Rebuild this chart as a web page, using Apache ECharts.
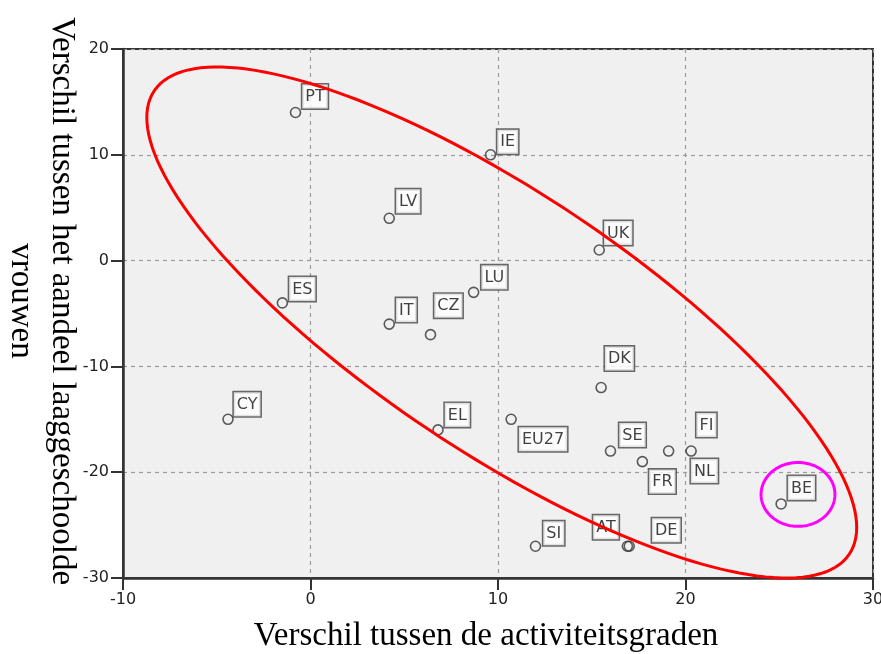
<!DOCTYPE html>
<html>
<head>
<meta charset="utf-8">
<script src="https://cdn.jsdelivr.net/npm/echarts@6/dist/echarts.min.js"></script>
<style>
  html, body { margin: 0; padding: 0; background: #fff; }
  #chart { width: 881px; height: 654px; }
</style>
</head>
<body>
<div id="chart"></div>
<script>
// landen en hun waarden
const countries   = ['PT', 'IE', 'LV', 'UK', 'ES', 'IT', 'CZ', 'LU', 'DK', 'CY', 'EL', 'EU27', 'SE', 'FR', 'FI', 'NL', 'SI', 'AT', 'DE', 'BE'];
const activityGap = [-0.8, 9.6, 4.2, 15.4, -1.5, 4.2, 6.4, 8.7, 15.5, -4.4, 6.8, 10.7, 16.0, 17.7, 19.1, 20.3, 12.0, 16.9, 17.0, 25.1];
const lowEduGap   = [14, 10, 4, 1, -4, -6, -7, -3, -12, -15, -16, -15, -18, -19, -18, -18, -27, -27, -27, -23];

const xTicks = [-10, 0, 10, 20, 30];
const yTicks = [-30, -20, -10, 0, 10, 20];

// verschuiving van de labels t.o.v. het punt (px)
const labelOffsets = {
  PT: [1, -4], IE: [1, -1], LV: [1, -5], UK: [-1, -5], ES: [1, -2], IT: [1, -2],
  CZ: [-2, -17], LU: [2, -3], DK: [-2, -17], CY: [0, -3], EL: [1, -3], EU27: [2, 32],
  SE: [3, -4], FR: [1, 32], FI: [22, -14], NL: [-6, 32], SI: [2, -1], AT: [-40, -7],
  DE: [17, -4], BE: [1, -4]
};

// ellipsen (annotatie): middelpunt + twee toegevoegde halve assen, in data-eenheden
const ellipses = [
  { center: [10.2, -5.85], u: [18.93, -19.37], v: [0, 14.42], color: '#ff0000' },
  { center: [26.0, -22.1], u: [1.97, 0], v: [0, 3.02], color: '#ff00ff' }
];

const chart = echarts.init(document.getElementById('chart'));

const points = countries.map((name, i) => ({
  name: name,
  value: [activityGap[i], lowEduGap[i]],
  label: { offset: labelOffsets[name] || [0, 0] }
}));

const axisCommon = {
  type: 'value',
  axisLine: { show: true, onZero: false, lineStyle: { color: '#333', width: 2.5 } },
  axisTick: { show: true, length: 12, lineStyle: { color: '#333', width: 2 } },
  axisLabel: { color: '#222', fontSize: 16, fontFamily: 'DejaVu Sans', margin: 14 },
  splitLine: { show: true, lineStyle: { color: '#9a9a9a', width: 1.2, type: [4, 4] } }
};

const titleFont = '33px "Liberation Serif", "Times New Roman", serif';

const option = {
  animation: false,
  grid: {
    left: 123, right: 8, top: 49, bottom: 76,
    outerBoundsMode: 'none',
    show: true, backgroundColor: '#f0f0f0', borderColor: '#333', borderWidth: 2
  },
  xAxis: Object.assign({}, axisCommon, {
    min: xTicks[0], max: xTicks[xTicks.length - 1], interval: 10
  }),
  yAxis: Object.assign({}, axisCommon, {
    min: yTicks[0], max: yTicks[yTicks.length - 1], interval: 10
  }),
  series: [
    {
      type: 'scatter',
      data: points,
      symbol: 'circle',
      symbolSize: 10,
      itemStyle: { color: 'rgba(0,0,0,0)', borderColor: '#333', borderWidth: 1.6 },
      label: {
        show: true,
        formatter: '{b}',
        position: 'right',
        distance: 0,
        align: 'left',
        verticalAlign: 'bottom',
        color: '#111',
        fontSize: 16,
        fontFamily: 'DejaVu Sans',
        lineHeight: 19,
        padding: [3, 3, 2, 3],
        backgroundColor: '#ffffff',
        borderColor: '#444',
        borderWidth: 1.5
      },
      emphasis: { disabled: true },
      z: 3
    },
    {
      type: 'custom',
      data: ellipses.map((e, i) => [i]),
      clip: false,
      silent: true,
      z: 5,
      renderItem: function (params, api) {
        const e = ellipses[params.dataIndex];
        const pts = [];
        for (let k = 0; k < 180; k++) {
          const t = k / 180 * Math.PI * 2;
          pts.push(api.coord([
            e.center[0] + e.u[0] * Math.cos(t) + e.v[0] * Math.sin(t),
            e.center[1] + e.u[1] * Math.cos(t) + e.v[1] * Math.sin(t)
          ]));
        }
        return {
          type: 'polygon',
          shape: { points: pts, smooth: 0 },
          style: { fill: 'none', stroke: e.color, lineWidth: 3 }
        };
      }
    }
  ],
  graphic: [
    {
      type: 'text', x: 486, y: 636,
      style: {
        text: 'Verschil tussen de activiteitsgraden',
        font: titleFont, fill: '#000', textAlign: 'center', textVerticalAlign: 'middle'
      }
    },
    {
      type: 'text', x: 62, y: 301, rotation: -Math.PI / 2,
      style: {
        text: 'Verschil tussen het aandeel laaggeschoolde',
        font: titleFont, fill: '#000', textAlign: 'center', textVerticalAlign: 'middle'
      }
    },
    {
      type: 'text', x: 21, y: 301, rotation: -Math.PI / 2,
      style: {
        text: 'vrouwen',
        font: titleFont, fill: '#000', textAlign: 'center', textVerticalAlign: 'middle'
      }
    }
  ]
};

chart.setOption(option);
</script>
</body>
</html>
